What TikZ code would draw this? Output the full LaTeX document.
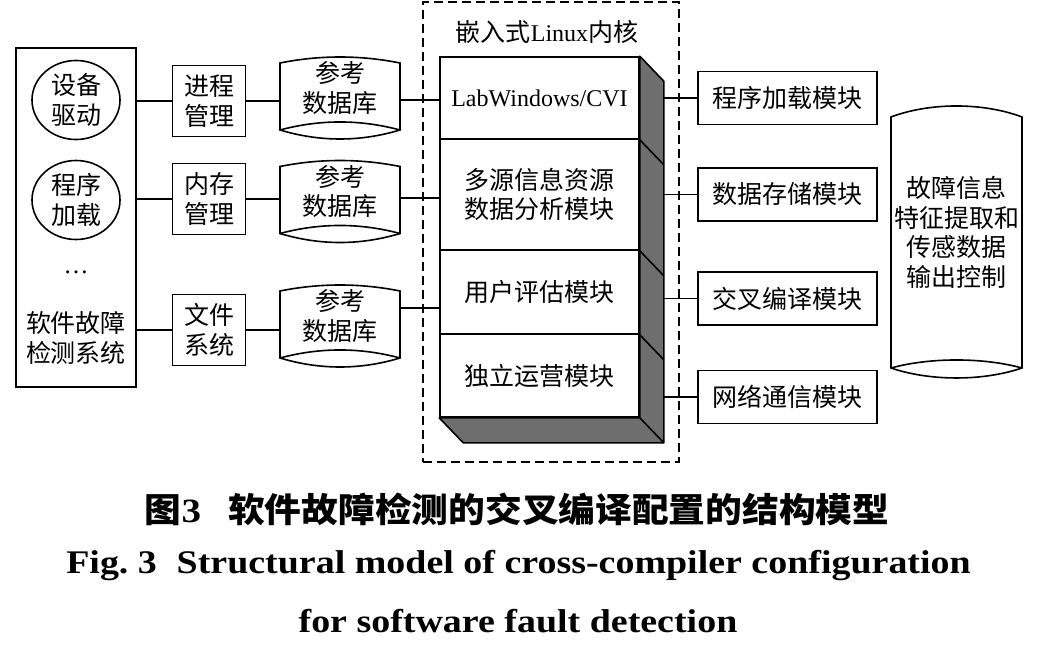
\documentclass[tikz,border=0pt]{standalone}
\usepackage{fontspec}
\setmainfont{Liberation Serif}
\newfontfamily\cjk{Noto Sans CJK SC}
\newfontfamily\capfont[FakeStretch=1.15]{Liberation Serif}
\newfontfamily\capcjk[FakeStretch=1.08]{Noto Sans CJK SC}
\usetikzlibrary{shapes.geometric}
\definecolor{sidegray}{RGB}{110,110,110}
\tikzset{
  box/.style={draw,line width=1.6pt,inner sep=0pt,align=center},
  txt/.style={font=\fontsize{25}{29.5}\selectfont\cjk,align=center},
  link/.style={line width=1.6pt},
  kernframe/.style={draw,line width=1.5pt,dash pattern=on 9pt off 5pt},
}

\begin{document}
\begin{tikzpicture}[x=1pt,y=-1pt]
        \useasboundingbox (0,0) rectangle (1037,655);
        % left: fault detection system
        \node[box,minimum width=120pt,minimum height=339pt] (sys) at (76,217.5) {};
        \node[box,txt,ellipse,minimum width=88pt,minimum height=79pt] (drv) at (76,100) {设备\\驱动};
        \node[box,txt,ellipse,minimum width=88pt,minimum height=79pt] (load) at (76,200) {程序\\加载};
        \node[txt] (dots) at (76,272) {\rmfamily\ldots};
        \node[txt] (det) at (76,338) {软件故障\\检测系统};
        % management boxes
        \node[box,txt,minimum width=73pt,minimum height=71pt] (proc) at (209,101) {进程\\管理};
        \node[box,txt,minimum width=73pt,minimum height=71pt] (mem) at (209,199) {内存\\管理};
        \node[box,txt,minimum width=73pt,minimum height=71pt] (fs) at (209,330) {文件\\系统};
        % reference databases
        \foreach \n/\y in {db1/98,db2/201.5,db3/326} {
          \draw[link] (280,\y-35) .. controls (320,\y-43) and (360,\y-43) .. (400,\y-35)
            -- (400,\y+32) .. controls (360,\y+44) and (320,\y+44) .. (280,\y+32) -- cycle;
          \draw[link] (280,\y+32) .. controls (320,\y+21.3) and (360,\y+21.3) .. (400,\y+32);
          \node[txt,minimum width=120pt] (\n) at (340,\y-10) {参考\\数据库};
        }
        % embedded kernel
        \node[kernframe,minimum width=256pt,minimum height=460pt] (kern) at (551,232) {};
        \node[txt] (ktitle) at (547,32) {嵌入式{\rmfamily\fontsize{24}{29}\selectfont Linux}内核};
        \node[box,txt,minimum width=199pt,minimum height=82pt] (lab) at (539.5,98)
          {\rmfamily\fontsize{24}{29}\selectfont LabWindows/CVI};
        \node[box,txt,minimum width=199pt,minimum height=111pt] (msrc) at (539.5,194.5) {多源信息资源\\数据分析模块};
        \node[box,txt,minimum width=199pt,minimum height=84pt] (user) at (539.5,292) {用户评估模块};
        \node[box,txt,minimum width=199pt,minimum height=83pt] (indep) at (539.5,375.5) {独立运营模块};
        \draw[link,fill=sidegray,line join=round] (lab.north east) -- ++(24,25)
          -- ([shift={(24,25)}]indep.south east) -- ([shift={(24,25)}]indep.south west)
          -- (indep.south west) -- (indep.south east) -- cycle;
        \foreach \n in {lab,msrc,user,indep}
          \draw[link] (\n.south east) -- ++(24,25);
        \coordinate (side) at ([shift={(24,25)}]lab.north east);
        % right modules
        \node[box,txt,minimum width=179pt,minimum height=53pt] (m1) at (787.5,98) {程序加载模块};
        \node[box,txt,minimum width=179pt,minimum height=53pt] (m2) at (787.5,194.5) {数据存储模块};
        \node[box,txt,minimum width=179pt,minimum height=53pt] (m3) at (787.5,298.5) {交叉编译模块};
        \node[box,txt,minimum width=179pt,minimum height=53pt] (m4) at (787.5,397) {网络通信模块};
        % output cylinder
        \draw[link] (891,117) .. controls (930,102.3) and (983,102.3) .. (1022,117)
          -- (1022,368) .. controls (983,381.3) and (930,381.3) .. (891,368) -- cycle;
        \draw[link] (891,368) .. controls (930,357.3) and (983,357.3) .. (1022,368);
        \node[txt] (out) at (956.5,232.5) {故障信息\\特征提取和\\传感数据\\输出控制};
        % connectors
        \foreach \n in {proc,mem,fs}
          \draw[link] (\n.west) -- (\n.west -| sys.east);
        \draw[link] (proc.east) -- (proc.east -| db1.west);
        \draw[link] (mem.east) -- (mem.east -| db2.west);
        \draw[link] (fs.east) -- (fs.east -| db3.west);
        \coordinate (in1) at (440,100);
        \coordinate (in2) at (440,198);
        \coordinate (in3) at (440,308);
        \draw[link] (in1) -- (in1 -| db1.east);
        \draw[link] (in2) -- (in2 -| db2.east);
        \draw[link] (in3) -- (in3 -| db3.east);
        \foreach \n in {m1,m2,m3,m4}
          \draw[link] (\n.west) -- (\n.west -| side);
        % caption
        \node[font=\capcjk\bfseries\fontsize{34}{40}\selectfont] (capzh) at (517,509)
          {图{\capfont\bfseries 3}\hspace{0.8em}软件故障检测的交叉编译配置的结构模型};
        \node[font=\capfont\bfseries\fontsize{33}{40}\selectfont,anchor=base] (capen) at (518.5,573)
          {Fig.~3\hspace{0.6em}Structural model of cross-compiler configuration};
        \node[font=\capfont\bfseries\fontsize{33}{40}\selectfont,anchor=base] (capen2) at (518,632)
          {for software fault detection};
      \end{tikzpicture}
\end{document}
